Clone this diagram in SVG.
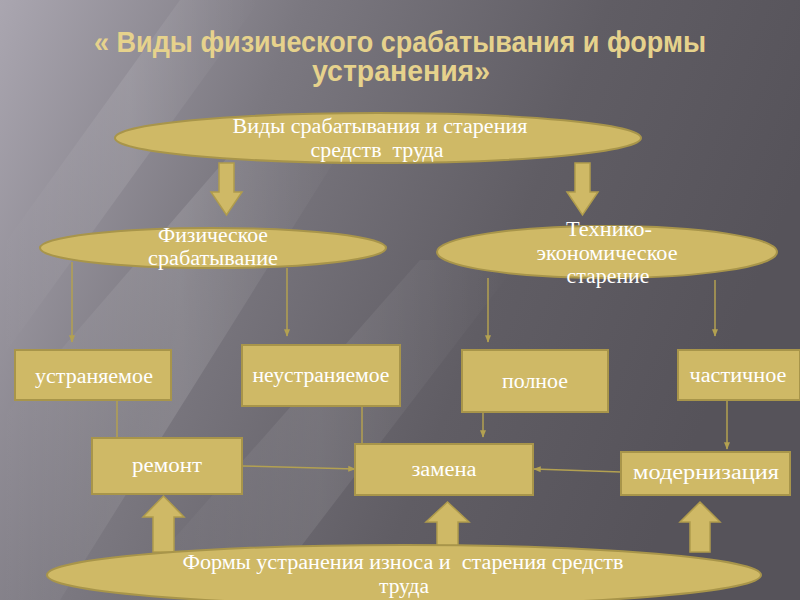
<svg xmlns="http://www.w3.org/2000/svg" width="800" height="600" viewBox="0 0 800 600">
  <defs>
    <linearGradient id="bg" x1="0" y1="0" x2="1" y2="0.3">
      <stop offset="0" stop-color="#aaa6b0"/>
      <stop offset="0.35" stop-color="#7b7880"/>
      <stop offset="0.7" stop-color="#605d64"/>
      <stop offset="1" stop-color="#56535a"/>
    </linearGradient>
    <linearGradient id="streak" x1="0" y1="0" x2="1" y2="0">
      <stop offset="0" stop-color="#ffffff" stop-opacity="0"/>
      <stop offset="0.5" stop-color="#ffffff" stop-opacity="0.12"/>
      <stop offset="1" stop-color="#ffffff" stop-opacity="0"/>
    </linearGradient>
    <marker id="ah" viewBox="0 0 10 10" refX="9" refY="5" markerWidth="5" markerHeight="5" orient="auto">
      <path d="M0,1 L10,5 L0,9 z" fill="#b3a151"/>
    </marker>
  </defs>
  <style>
    .shape { fill: #cfb966; stroke: #a8954a; stroke-width: 2; }
    .blk { fill: #cfb966; stroke: #b09c4c; stroke-width: 1.5; }
    .lbl { font-family: "Liberation Serif", "DejaVu Serif", serif; font-size: 20px; fill: #ffffff; text-anchor: middle; white-space: pre; }
    .title { font-family: "Liberation Sans Narrow", "Liberation Sans", Arial, sans-serif; font-weight: bold; font-size: 29px; fill: #e6d28c; text-anchor: middle; }
    .con { stroke: #b3a151; stroke-width: 1.5; fill: none; }
  </style>

  <rect width="800" height="600" fill="url(#bg)"/>
  <polygon points="0,420 260,120 360,120 60,600 0,600" fill="url(#streak)"/>
  <polygon points="120,600 420,260 520,260 260,600" fill="url(#streak)" opacity="0.7"/>
  <polygon points="0,250 180,0 260,0 0,360" fill="url(#streak)" opacity="0.8"/>

  <g id="title">
    <text class="title" x="400" y="52" textLength="612" lengthAdjust="spacingAndGlyphs">« Виды физического срабатывания и формы</text>
    <text class="title" x="401" y="81" textLength="178" lengthAdjust="spacingAndGlyphs">устранения»</text>
  </g>

  <g id="connectors">
    <path class="con" d="M72,262 V342" marker-end="url(#ah)"/>
    <path class="con" d="M287,268 V336" marker-end="url(#ah)"/>
    <path class="con" d="M488,278 V342" marker-end="url(#ah)"/>
    <path class="con" d="M715,280 V336" marker-end="url(#ah)"/>
    <path class="con" d="M117,400 V438"/>
    <path class="con" d="M362,406 V444"/>
    <path class="con" d="M483,412 V437" marker-end="url(#ah)"/>
    <path class="con" d="M727,400 V449" marker-end="url(#ah)"/>
    <path class="con" d="M242,466 L355,469" marker-end="url(#ah)"/>
    <path class="con" d="M621,472 L534,469" marker-end="url(#ah)"/>
  </g>

  <g id="arrow-down-left">
    <polygon class="blk" points="219,163 234,163 234,192 242,192 226.5,215 211,192 219,192"/>
  </g>
  <g id="arrow-down-right">
    <polygon class="blk" points="575,163 590,163 590,192 598,192 582.5,215 567,192 575,192"/>
  </g>

  <g id="n-top">
    <ellipse class="shape" cx="378" cy="138" rx="263" ry="25"/>
    <text class="lbl" x="380" y="133" textLength="295" lengthAdjust="spacingAndGlyphs">Виды срабатывания и старения</text>
    <text class="lbl" x="377" y="157" xml:space="preserve" textLength="133" lengthAdjust="spacingAndGlyphs">средств  труда</text>
  </g>

  <g id="n-phys">
    <ellipse class="shape" cx="213" cy="248" rx="173" ry="20"/>
    <text class="lbl" x="213" y="242" textLength="110" lengthAdjust="spacingAndGlyphs">Физическое</text>
    <text class="lbl" x="213" y="265" textLength="130" lengthAdjust="spacingAndGlyphs">срабатывание</text>
  </g>

  <g id="n-tech">
    <ellipse class="shape" cx="607" cy="252" rx="170" ry="26"/>
    <text class="lbl" x="609" y="236" textLength="86" lengthAdjust="spacingAndGlyphs">Технико-</text>
    <text class="lbl" x="607" y="260" textLength="141" lengthAdjust="spacingAndGlyphs">экономическое</text>
    <text class="lbl" x="608" y="283" textLength="83" lengthAdjust="spacingAndGlyphs">старение</text>
  </g>

  <g id="n-ustr">
    <rect class="shape" x="15" y="350" width="156" height="50"/>
    <text class="lbl" x="94" y="383" textLength="118" lengthAdjust="spacingAndGlyphs">устраняемое</text>
  </g>
  <g id="n-neustr">
    <rect class="shape" x="242" y="345" width="158" height="61"/>
    <text class="lbl" x="321" y="382" textLength="137" lengthAdjust="spacingAndGlyphs">неустраняемое</text>
  </g>
  <g id="n-poln">
    <rect class="shape" x="462" y="350" width="146" height="62"/>
    <text class="lbl" x="535" y="388" textLength="66" lengthAdjust="spacingAndGlyphs">полное</text>
  </g>
  <g id="n-chast">
    <rect class="shape" x="678" y="350" width="122" height="50"/>
    <text class="lbl" x="738" y="382" textLength="97" lengthAdjust="spacingAndGlyphs">частичное</text>
  </g>

  <g id="n-remont">
    <rect class="shape" x="92" y="438" width="150" height="56"/>
    <text class="lbl" x="167" y="472" textLength="70" lengthAdjust="spacingAndGlyphs">ремонт</text>
  </g>
  <g id="n-zamena">
    <rect class="shape" x="355" y="444" width="178" height="51"/>
    <text class="lbl" x="444" y="476" textLength="65" lengthAdjust="spacingAndGlyphs">замена</text>
  </g>
  <g id="n-modern">
    <rect class="shape" x="621" y="452" width="169" height="43"/>
    <text class="lbl" x="706" y="479" textLength="146" lengthAdjust="spacingAndGlyphs">модернизация</text>
  </g>

  <g id="arrow-up-left">
    <polygon class="blk" points="153,552 174,552 174,517 184,517 163.5,496 143,517 153,517"/>
  </g>
  <g id="arrow-up-mid">
    <polygon class="blk" points="437,552 458,552 458,522 469,522 447.5,502 426,522 437,522"/>
  </g>
  <g id="arrow-up-right">
    <polygon class="blk" points="690,552 710,552 710,522 720,522 700,502 680,522 690,522"/>
  </g>

  <g id="n-bottom">
    <ellipse class="shape" cx="404" cy="575" rx="357" ry="30"/>
    <text class="lbl" x="403" y="569" xml:space="preserve" textLength="441" lengthAdjust="spacingAndGlyphs">Формы устранения износа и  старения средств</text>
    <text class="lbl" x="404" y="593" textLength="50" lengthAdjust="spacingAndGlyphs">труда</text>
  </g>
</svg>
